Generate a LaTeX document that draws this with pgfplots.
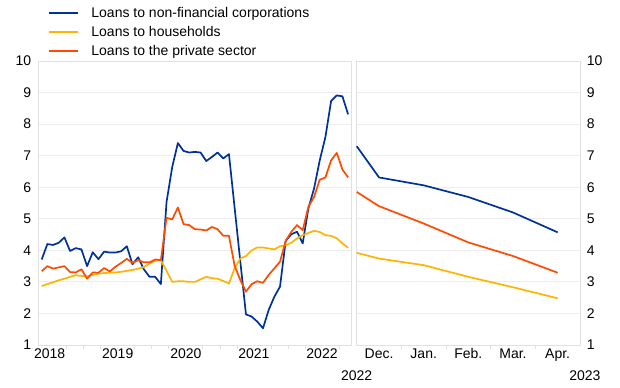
\documentclass[border=0pt]{standalone}
\usepackage{fontspec}
\setmainfont{Liberation Sans}
\usepackage{pgfplots}
\pgfplotsset{compat=1.18}
\definecolor{ecbblue}{HTML}{003299}
\definecolor{ecbyellow}{HTML}{FFB400}
\definecolor{ecbred}{HTML}{FF4B00}
\definecolor{framegray}{HTML}{E1E1E1}
\definecolor{gridgray}{HTML}{EDEDED}
\newcommand{\lab}{\fontsize{14bp}{16bp}\selectfont}
\pgfplotsset{
  ecbpanel/.style={
    scale only axis,
    height=284bp,
    ymin=1, ymax=10,
    ytick={1,2,...,10},
    axis line style={framegray, line width=0.8bp},
    ymajorgrids,
    major grid style={gridgray, line width=0.8bp},
    tick align=outside,
    major tick length=0pt,
    minor tick length=4bp,
    minor x tick style={framegray, line width=0.7bp},
    xtick pos=bottom,
    tick label style={font=\lab},
    /pgf/number format/assume math mode=true,
    every axis plot/.append style={line width=1.7bp, line join=round, mark=none},
    clip=false,
  }
}
\pgfplotstableread{
m blue yellow red
0 3.71 2.87 3.34
1 4.20 2.93 3.50
2 4.17 2.99 3.42
3 4.24 3.05 3.46
4 4.41 3.10 3.50
5 3.98 3.16 3.31
6 4.07 3.21 3.30
7 4.03 3.19 3.40
8 3.50 3.18 3.10
9 3.94 3.22 3.30
10 3.72 3.26 3.29
11 3.96 3.28 3.44
12 3.93 3.29 3.33
13 3.93 3.30 3.48
14 3.97 3.32 3.60
15 4.13 3.35 3.73
16 3.56 3.38 3.60
17 3.78 3.42 3.69
18 3.40 3.47 3.62
19 3.16 3.58 3.62
20 3.16 3.67 3.71
21 2.93 3.69 3.69
22 5.53 3.35 5.03
23 6.64 3.00 4.98
24 7.40 3.02 5.36
25 7.15 3.02 4.83
26 7.10 3.00 4.80
27 7.12 3.00 4.67
28 7.10 3.08 4.66
29 6.83 3.16 4.63
30 6.96 3.12 4.74
31 7.10 3.10 4.67
32 6.91 3.03 4.46
33 7.05 2.95 4.46
34 5.35 3.43 3.51
35 3.65 3.74 3.06
36 1.97 3.82 2.69
37 1.90 4.00 2.93
38 1.74 4.09 3.02
39 1.53 4.09 2.97
40 2.11 4.06 3.22
41 2.53 4.03 3.43
42 2.85 4.13 3.64
43 4.30 4.16 4.30
44 4.51 4.24 4.59
45 4.59 4.38 4.80
46 4.22 4.48 4.64
47 5.33 4.55 5.38
48 5.96 4.62 5.69
49 6.85 4.58 6.24
50 7.59 4.48 6.31
51 8.73 4.46 6.85
52 8.91 4.38 7.09
53 8.88 4.22 6.56
54 8.31 4.08 6.31
}\lefttable
\pgfplotstableread{
n blue yellow red
-0.5 7.30 3.92 5.85
0 6.31 3.74 5.40
1 6.06 3.53 4.85
2 5.69 3.16 4.25
3 5.20 2.83 3.82
4 4.57 2.48 3.29
}\righttable
\begin{document}
\begin{tikzpicture}[x=1bp,y=1bp]
\path[use as bounding box] (0,0) rectangle (620,387);
\begin{axis}[ecbpanel,
  at={(38.3bp,42bp)}, anchor=south west,
  width=313.2bp,
  xmin=-0.6, xmax=54.6,
  xtick={1.4,13.4,25.4,37.4,49.4},
  xticklabels={2018,2019,2020,2021,2022},
  minor xtick={4.4,7.4,10.4,16.4,19.4,22.4,28.4,31.4,34.4,40.4,43.4,46.4,52.4},
  yticklabel style={anchor=east, xshift=-3.6bp},
  legend style={at={(axis description cs:0.031,1.197)}, anchor=north west,
    draw=none, fill=none, font=\lab, inner sep=0pt, row sep=3.2bp,
    legend cell align=left},
  legend image code/.code={\draw[#1, line width=2.2bp] (0bp,0bp) -- (29bp,0bp);},
]
\addplot[ecbblue] table[x=m, y=blue] {\lefttable};
\addlegendentry{\hspace{10bp}Loans to non-financial corporations}
\addplot[ecbyellow] table[x=m, y=yellow] {\lefttable};
\addlegendentry{\hspace{10bp}Loans to households}
\addplot[ecbred] table[x=m, y=red] {\lefttable};
\addlegendentry{\hspace{10bp}Loans to the private sector}
\end{axis}
\begin{axis}[ecbpanel,
  at={(356.7bp,42bp)}, anchor=south west,
  width=223.3bp,
  xmin=-0.5, xmax=4.5,
  xtick={0,1,2,3,4},
  xticklabels={Dec.,Jan.,Feb.,Mar.,Apr.},
  minor xtick={0.5,1.5,2.5,3.5},
  yticklabel pos=right,
  yticklabel style={anchor=west, xshift=3.3bp},
]
\addplot[ecbblue] table[x=n, y=blue] {\righttable};
\addplot[ecbyellow] table[x=n, y=yellow] {\righttable};
\addplot[ecbred] table[x=n, y=red] {\righttable};
\node[font=\lab, anchor=center] at (rel axis cs:0,-0.109) {2022};
\node[font=\lab, anchor=center] at (rel axis cs:1.022,-0.109) {2023};
\end{axis}
\end{tikzpicture}
\end{document}
